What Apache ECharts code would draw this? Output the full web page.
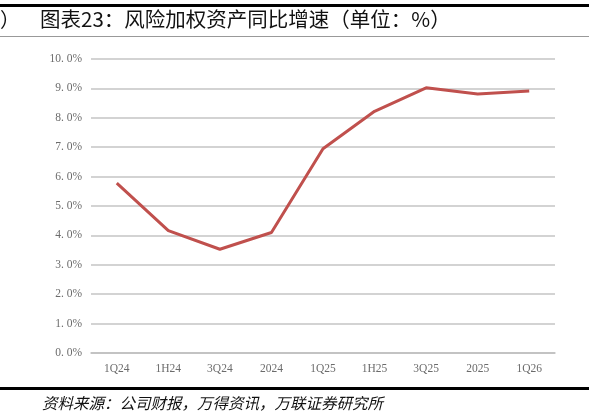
<!DOCTYPE html>
<html><head><meta charset="utf-8">
<script src="https://cdn.jsdelivr.net/npm/echarts@6/dist/echarts.min.js"></script>
<style>html,body{margin:0;padding:0;background:#fff}#c{width:589px;height:419px}</style>
</head><body><div id="c"></div>
<script>
var categories = ['1Q24','1H24','3Q24','2024','1Q25','1H25','3Q25','2025','1Q26'];
var rwaGrowth = [5.78, 4.16, 3.53, 4.10, 6.95, 8.22, 9.02, 8.81, 8.91];
var yTickLabels = ['0. 0%','1. 0%','2. 0%','3. 0%','4. 0%','5. 0%','6. 0%','7. 0%','8. 0%','9. 0%','10. 0%'];
var titleText = '图表23：风险加权资产同比增速（单位：%）';
var sourceText = '资料来源：公司财报，万得资讯，万联证券研究所';

var chart = echarts.init(document.getElementById('c'), null, {renderer:'canvas'});
chart.setOption({
  animation:false,
  grid:{left:91,right:34,top:59,bottom:66},
  xAxis:{type:'category',data:categories,boundaryGap:true,
    axisLine:{lineStyle:{color:'#bfbfbf',width:1.5}},axisTick:{show:false},
    axisLabel:{color:'#6b6b6b',fontFamily:'Liberation Serif',fontSize:11.5,margin:10}},
  yAxis:{type:'value',min:0,max:10,interval:1,
    axisLine:{show:false},axisTick:{show:false},
    splitLine:{lineStyle:{color:'#c4c4c4',width:1.5}},
    axisLabel:{color:'#6b6b6b',fontFamily:'Liberation Serif',fontSize:11.5,margin:9,
      formatter:function(v){return yTickLabels[Math.round(v)];}}},
  series:[{type:'line',data:rwaGrowth,symbol:'none',
    lineStyle:{color:'#c0504d',width:3}}],
  graphic:[
    {type:'rect',shape:{x:0,y:4,width:589,height:3},style:{fill:'#000'}},
    {type:'text',x:0,y:9,style:{text:'）',font:'20px "Noto Sans CJK SC"',fill:'#111'}},
    {type:'text',x:40,y:9,style:{text:titleText,font:'20.5px "Noto Sans CJK SC"',fill:'#111'}},
    {type:'rect',shape:{x:0,y:36,width:589,height:1},style:{fill:'#999'}},
    {type:'rect',shape:{x:0,y:387,width:589,height:3},style:{fill:'#000'}},
    {type:'text',x:42,y:395,style:{text:sourceText,font:'italic 15.5px "Noto Sans CJK SC"',fill:'#111'}}
  ]
});
</script></body></html>
